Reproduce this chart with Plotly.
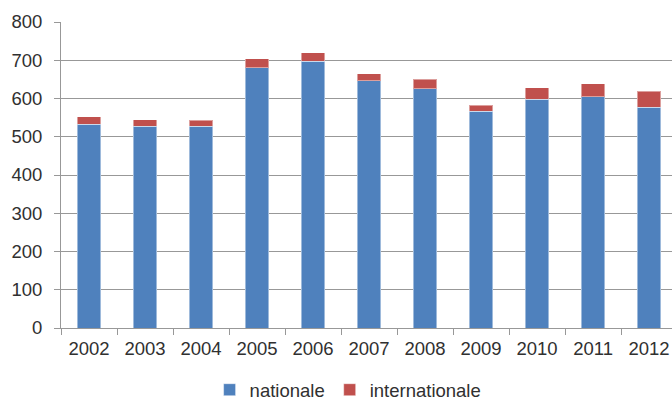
import plotly.graph_objects as go

years = ["2002", "2003", "2004", "2005", "2006", "2007", "2008", "2009", "2010", "2011", "2012"]
nationale = [533, 527, 527, 680, 698, 646, 625, 567, 598, 604, 577]
internationale = [19, 18, 16, 24, 22, 19, 25, 15, 30, 34, 42]

BLUE = "#4F81BD"
RED = "#C0504D"
GRID = "#989898"
FONT = dict(family="Liberation Sans, Arial, sans-serif", size=18.5, color="#303030")

fig = go.Figure()
fig.add_trace(go.Bar(x=years, y=nationale, name="nationale", marker=dict(color=BLUE, line=dict(color="rgba(255,255,255,0.45)", width=1))))
fig.add_trace(go.Bar(x=years, y=internationale, name="internationale", marker=dict(color=RED, line=dict(color="rgba(255,255,255,0.45)", width=1))))

fig.update_layout(
    barmode="stack",
    bargap=0.58,
    width=672, height=401,
    margin=dict(l=61, r=0, t=22, b=73, autoexpand=False),
    paper_bgcolor="white", plot_bgcolor="white",
    font=FONT,
    showlegend=True,
    legend=dict(orientation="h", xref="container", x=0.518, xanchor="center",
                yref="container", y=0.027, yanchor="middle",
                font=FONT, itemwidth=30, traceorder="normal"),
    xaxis=dict(type="category", range=[-0.5, 10.41], showgrid=False,
               showline=True, linecolor=GRID, linewidth=1,
               ticks="outside", tickson="boundaries", ticklen=6, tickcolor=GRID,
               tickfont=FONT, ticklabelstandoff=4),
    yaxis=dict(range=[0, 800], dtick=100, showgrid=True, gridcolor=GRID, gridwidth=1,
               showline=True, linecolor=GRID, linewidth=1,
               ticks="outside", ticklen=6, tickcolor=GRID, tickfont=FONT, zeroline=False,
               ticklabelstandoff=8),
)

fig.write_html("out.html")
